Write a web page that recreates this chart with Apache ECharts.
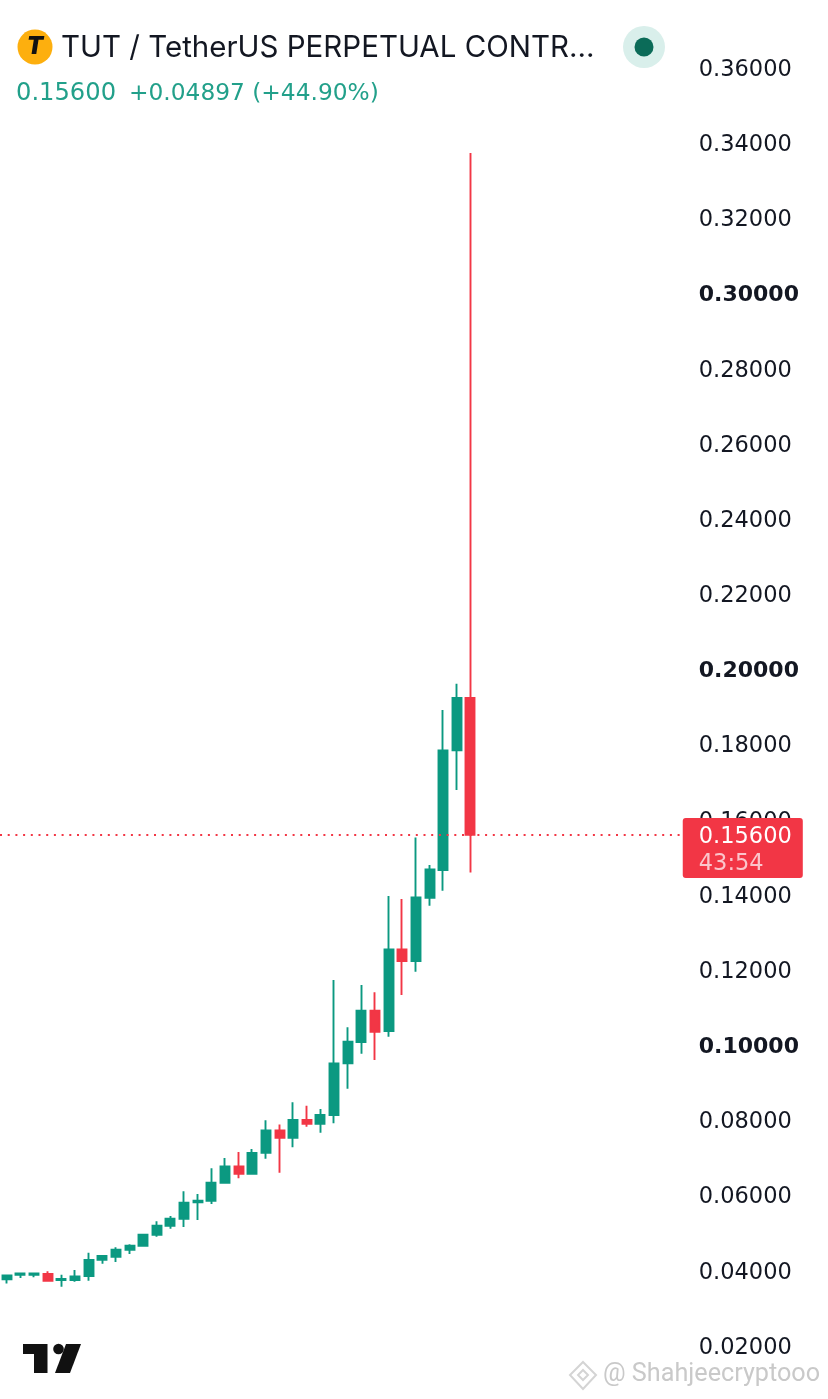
<!DOCTYPE html>
<html><head><meta charset="utf-8">
<style>html,body{margin:0;padding:0;background:#fff}#c{width:828px;height:1399px}</style>
<script src="https://cdn.jsdelivr.net/npm/echarts@6/dist/echarts.min.js"></script>
</head><body><div id="c"></div>
<script>
const opens  = [.03774,.03897,.03897,.03915,.03755,.03755,.03861,.04296,.04376,.04562,.04668,.04961,.05201,.05387,.05821,.05866,.06345,.06779,.06584,.07143,.07737,.07542,.08012,.07914,.08145,.09519,.10087,.10920,.10379,.12552,.12241,.13926,.14662,.17846,.19238];
const closes = [.03879,.03932,.03932,.03737,.03782,.03853,.04287,.04394,.04562,.04668,.04961,.05201,.05387,.05812,.05866,.06345,.06779,.06584,.07134,.07737,.07542,.08012,.07914,.08145,.09519,.10096,.10920,.10361,.12552,.12241,.13935,.14680,.17846,.19238,.15600];
const lows   = [.03666,.03808,.03826,.03737,.03578,.03711,.03737,.04190,.04234,.04447,.04668,.04908,.05121,.05165,.05351,.05777,.06318,.06460,.06584,.06983,.06611,.07285,.07834,.07675,.07923,.08845,.09776,.09608,.10228,.11337,.11958,.13713,.14112,.16791,.14600];
const highs  = [.03897,.03950,.03932,.03986,.03897,.04021,.04482,.04411,.04624,.04704,.04961,.05316,.05458,.06114,.06043,.06726,.07001,.07160,.07240,.08003,.07896,.08482,.08393,.08304,.11736,.10477,.11603,.11408,.13970,.13891,.15531,.14795,.18919,.19619,.33737];
const barLabels = Array.from({length:50},(_, i)=>String(i+1));
const tickMin = 0.02, tickMax = 0.36, tickStep = 0.02;
const boldTicks = ['0.10000','0.20000','0.30000'];
const lastPrice = 0.156;
const lastPriceText = '0.15600';
const countdown = '43:54';
const titleText = 'TUT / TetherUS PERPETUAL CONTR...';
const priceText = '0.15600';
const changeText = '+0.04897 (+44.90%)';
const watermark = '@ Shahjeecryptooo';
const UP = '#0b9981', DOWN = '#f23645';
const FONT = 'Inter, "Noto Sans", sans-serif';
const NUMFONT = '"DejaVu Sans", sans-serif';

const candleData = opens.map((o,i)=>({value:[o,closes[i],lows[i],highs[i]]}));

const chart = echarts.init(document.getElementById('c'), null, {renderer:'canvas'});
chart.setOption({
  animation:false,
  backgroundColor:'#fff',
  grid:{left:0, top:68, bottom:53, width:681.75, containLabel:false},
  xAxis:{type:'category', data:barLabels, boundaryGap:true, axisLine:{show:false}, axisTick:{show:false}, axisLabel:{show:false}, splitLine:{show:false}},
  yAxis:{type:'value', position:'right', min:tickMin, max:tickMax, interval:tickStep,
    axisLine:{show:false}, axisTick:{show:false}, splitLine:{show:false},
    axisLabel:{margin:17, align:'left', color:'#131722', fontFamily:NUMFONT, fontSize:22.5, padding:[4,0,0,0],
      formatter:v=>{const s=v.toFixed(5); return boldTicks.includes(s)?'{b|'+s+'}':s;},
      rich:{b:{fontWeight:'bold', fontSize:22, fontFamily:NUMFONT, color:'#131722'}}}},
  series:[{
    type:'candlestick', data:candleData, barWidth:9.5, clip:false,
    itemStyle:{color:UP, color0:DOWN, borderColor:UP, borderColor0:DOWN, borderWidth:1.9},
    markLine:{silent:true, symbol:'none', animation:false, precision:5,
      lineStyle:{color:DOWN, type:[2,5.7], width:2},
      label:{show:true, position:'end', distance:1, offset:[0,13.2], backgroundColor:DOWN, borderRadius:3,
        padding:[6,11,0,16], align:'left',
        formatter:'{p|'+lastPriceText+'}\n{t|'+countdown+'}',
        rich:{p:{color:'#fff',fontFamily:NUMFONT,fontSize:22.5,lineHeight:27},t:{color:'#fbc5cb',fontFamily:NUMFONT,fontSize:22.5,lineHeight:27}}},
      data:[{yAxis:lastPrice}]}
  }],
  graphic:[
    {type:'circle', shape:{cx:35,cy:47,r:17.5}, style:{fill:'#fdaf0e'}},
    {type:'text', x:35, y:47, style:{text:'T', font:'italic 900 24px '+FONT, fill:'#111', align:'center', verticalAlign:'middle'}},
    {type:'text', x:61, y:48, style:{text:titleText, font:'400 29.5px '+FONT, fill:'#131722', verticalAlign:'middle'}},
    {type:'text', x:16, y:94, style:{text:priceText, font:'400 24.2px '+NUMFONT, fill:'#22a08a', verticalAlign:'middle'}},
    {type:'text', x:129, y:94, style:{text:changeText, font:'400 23.3px '+NUMFONT, fill:'#22a08a', verticalAlign:'middle'}},
    {type:'circle', shape:{cx:644,cy:47,r:21}, style:{fill:'#d9efeb'}},
    {type:'circle', shape:{cx:644,cy:47,r:9.5}, style:{fill:'#0b6b58'}},
    {type:'polygon', shape:{points:[[23,1344],[47.5,1344],[47.5,1373],[34,1373],[34,1354],[23,1354]]}, style:{fill:'#111'}},
    {type:'circle', shape:{cx:58.5,cy:1349,r:5.3}, style:{fill:'#111'}},
    {type:'polygon', shape:{points:[[66,1344],[81,1344],[70,1373],[55,1373]]}, style:{fill:'#111'}},
    {type:'polygon', shape:{points:[[583,1362],[596,1375],[583,1389],[570,1375]]}, style:{fill:'none',stroke:'#d4d4d4',lineWidth:2}},
    {type:'polygon', shape:{points:[[583,1370],[588,1375],[583,1380],[578,1375]]}, style:{fill:'none',stroke:'#d4d4d4',lineWidth:2}},
    {type:'text', x:603, y:1375, style:{text:watermark, font:'400 25.2px Roboto, '+FONT, fill:'#c9c9c9', verticalAlign:'middle'}}
  ]
});
</script></body></html>
